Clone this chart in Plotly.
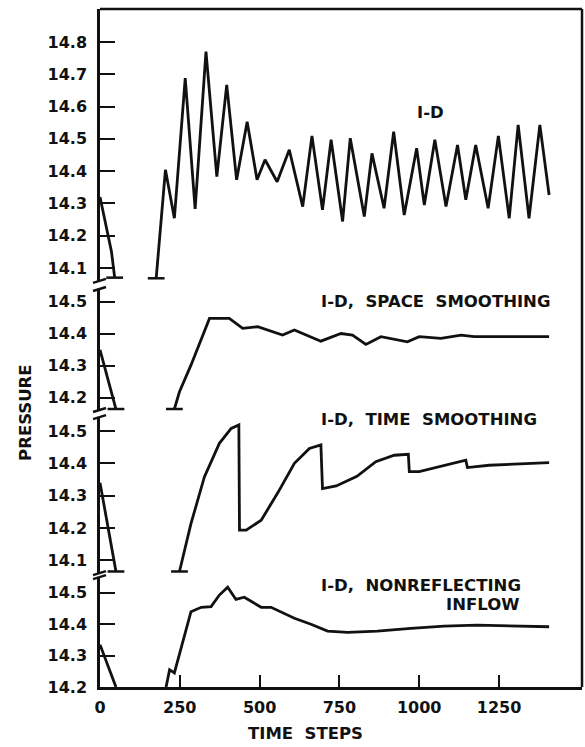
import plotly.graph_objects as go

# time steps / pressure (None = gap in the curve)
steps_1d = [0, 36, 46, None, 176, 205, 233, 267, 298, 332, 366, 397, 428, 461, 492, 517,
            555, 593, 635, 664, 697, 724, 760, 784, 828, 852, 890, 920, 953, 992, 1016,
            1049, 1084, 1120, 1146, 1177, 1216, 1248, 1282, 1310, 1344, 1378, 1407]
press_1d = [14.32, 14.15, 14.07, None, 14.068, 14.404, 14.254, 14.688, 14.283, 14.77,
            14.383, 14.667, 14.373, 14.553, 14.373, 14.435, 14.367, 14.466, 14.29, 14.509,
            14.28, 14.497, 14.244, 14.502, 14.259, 14.455, 14.285, 14.522, 14.264, 14.471,
            14.295, 14.497, 14.29, 14.481, 14.311, 14.481, 14.285, 14.509, 14.254, 14.543,
            14.254, 14.543, 14.326]

steps_space = [0, 50, None, 233, 249, 285, 343, 405, 447, 494, 572, 609, 692, 755, 791,
               833, 880, 963, 1000, 1068, 1131, 1172, 1407]
press_space = [14.35, 14.165, None, 14.165, 14.219, 14.302, 14.448, 14.448, 14.417, 14.422,
               14.396, 14.412, 14.377, 14.401, 14.396, 14.367, 14.391, 14.375, 14.391,
               14.386, 14.396, 14.391, 14.391]

steps_time = [0, 50, None, 249, 285, 327, 374, 411, 435, 437, 458, 505, 556, 609, 656, 692,
              697, 740, 805, 864, 922, 966, 969, 1000, 1063, 1146, 1151, 1219, 1407]
press_time = [14.34, 14.065, None, 14.065, 14.213, 14.358, 14.462, 14.508, 14.519, 14.193,
              14.193, 14.224, 14.307, 14.4, 14.446, 14.457, 14.322, 14.33, 14.36, 14.405,
              14.425, 14.428, 14.374, 14.374, 14.389, 14.41, 14.387, 14.394, 14.402]

steps_nonrefl = [0, 50, None, 207, 218, 226, 233, 285, 317, 348, 374, 400, 426, 452, 505,
                 536, 609, 661, 713, 776, 869, 974, 1078, 1182, 1407]
press_nonrefl = [14.335, 14.2, None, 14.2, 14.255, 14.25, 14.245, 14.44, 14.454, 14.456,
                 14.493, 14.518, 14.479, 14.486, 14.454, 14.454, 14.419, 14.4, 14.378,
                 14.374, 14.378, 14.387, 14.394, 14.397, 14.392]

y_ticks = [
    [14.1, 14.2, 14.3, 14.4, 14.5, 14.6, 14.7, 14.8],
    [14.2, 14.3, 14.4, 14.5],
    [14.1, 14.2, 14.3, 14.4, 14.5],
    [14.2, 14.3, 14.4, 14.5],
]
x_ticks = [0, 250, 500, 750, 1000, 1250]
labels = ["I-D", "I-D,  SPACE  SMOOTHING", "I-D,  TIME  SMOOTHING", "I-D,  NONREFLECTING", "INFLOW"]

panels = [(steps_1d, press_1d), (steps_space, press_space),
          (steps_time, press_time), (steps_nonrefl, press_nonrefl)]
domains = [[0.599, 1.0], [0.4086, 0.587], [0.168, 0.398], [0.0, 0.162]]
ranges = [[14.06, 14.902], [14.162, 14.54], [14.06, 14.543], [14.2, 14.55]]

INK = "#111111"
FONT = "DejaVu Sans"

fig = go.Figure()

for i, (t, p) in enumerate(panels):
    yname = "y" if i == 0 else f"y{i + 1}"
    fig.add_trace(go.Scatter(x=t, y=p, mode="lines", xaxis="x", yaxis=yname,
                             line=dict(color=INK, width=2.8), connectgaps=False,
                             showlegend=False, hoverinfo="skip"))
    if i < 3:
        # little feet where the curve leaves the bottom of the scale
        fx, fy = [], []
        seg = []
        for tt, pp in list(zip(t, p)) + [(None, None)]:
            if tt is None:
                if seg:
                    for end in (seg[0], seg[-1]):
                        if end[1] - ranges[i][0] < 0.02:
                            fx.append(end[0])
                            fy.append(end[1])
                seg = []
            else:
                seg.append((tt, pp))
        fig.add_trace(go.Scatter(x=fx, y=fy, mode="markers", xaxis="x", yaxis=yname,
                                 marker=dict(symbol="line-ew", size=12,
                                             line=dict(color=INK, width=2.5)),
                                 cliponaxis=False, showlegend=False, hoverinfo="skip"))

layout_axes = {}
for i in range(4):
    key = "yaxis" if i == 0 else f"yaxis{i + 1}"
    layout_axes[key] = dict(
        domain=domains[i], range=ranges[i], anchor="x",
        tickvals=y_ticks[i], ticktext=[f"{v:.1f}" for v in y_ticks[i]],
        ticks="inside", ticklen=15, tickwidth=2, tickcolor=INK,
        showline=True, linewidth=2.5, linecolor=INK,
        showgrid=False, zeroline=False, ticklabelstandoff=7,
        tickfont=dict(family=FONT, size=16, color=INK, weight="bold"),
    )

fig.update_layout(
    width=585, height=747,
    margin=dict(l=100, r=3, t=9, b=60),
    paper_bgcolor="white", plot_bgcolor="white",
    xaxis=dict(range=[0, 1510], anchor="y4", tickvals=x_ticks,
               ticktext=[str(v) for v in x_ticks],
               ticks="inside", ticklen=12, tickwidth=2, tickcolor=INK,
               showline=True, linewidth=2.5, linecolor=INK,
               showgrid=False, zeroline=False, ticklabelstandoff=4,
               tickfont=dict(family=FONT, size=16, color=INK, weight="bold")),
    **layout_axes,
)

# frame: top and right edges
fig.add_shape(type="line", xref="paper", yref="paper", x0=0, x1=1, y0=1, y1=1,
              line=dict(color=INK, width=2.5))
fig.add_shape(type="line", xref="paper", yref="paper", x0=1, x1=1, y0=0, y1=1,
              line=dict(color=INK, width=2.5))

# axis break marks between panels
for d_low, d_high in zip([d[0] for d in domains[:3]], [d[1] for d in domains[1:]]):
    for yb in (d_low, d_high):
        fig.add_shape(type="line", xref="paper", yref="paper",
                      xsizemode="pixel", xanchor=0, x0=-7, x1=6,
                      ysizemode="pixel", yanchor=yb, y0=-2, y1=2,
                      line=dict(color=INK, width=2.5))

txt = dict(family=FONT, size=16.5, color=INK, weight="bold")
notes = [
    (labels[0], 0.685, 0.848, "center"),
    (labels[1], 0.455, 0.569, "left"),
    (labels[2], 0.455, 0.394, "left"),
    (labels[3], 0.455, 0.150, "left"),
    (labels[4], 0.873, 0.121, "right"),
    ("TIME  STEPS", 0.427, -0.068, "center"),
]
for text, x, y, xa in notes:
    fig.add_annotation(text=text, x=x, y=y, xref="paper", yref="paper",
                       xanchor=xa, yanchor="middle", showarrow=False, font=txt)
fig.add_annotation(text="PRESSURE", x=-0.156, y=0.404, xref="paper", yref="paper",
                   xanchor="center", yanchor="middle",
                   textangle=-90, showarrow=False, font=txt)

fig.write_html("out.html", config={"displayModeBar": False},
               post_script="document.body.style.margin='0';"
                           "document.body.style.overflow='hidden';")
